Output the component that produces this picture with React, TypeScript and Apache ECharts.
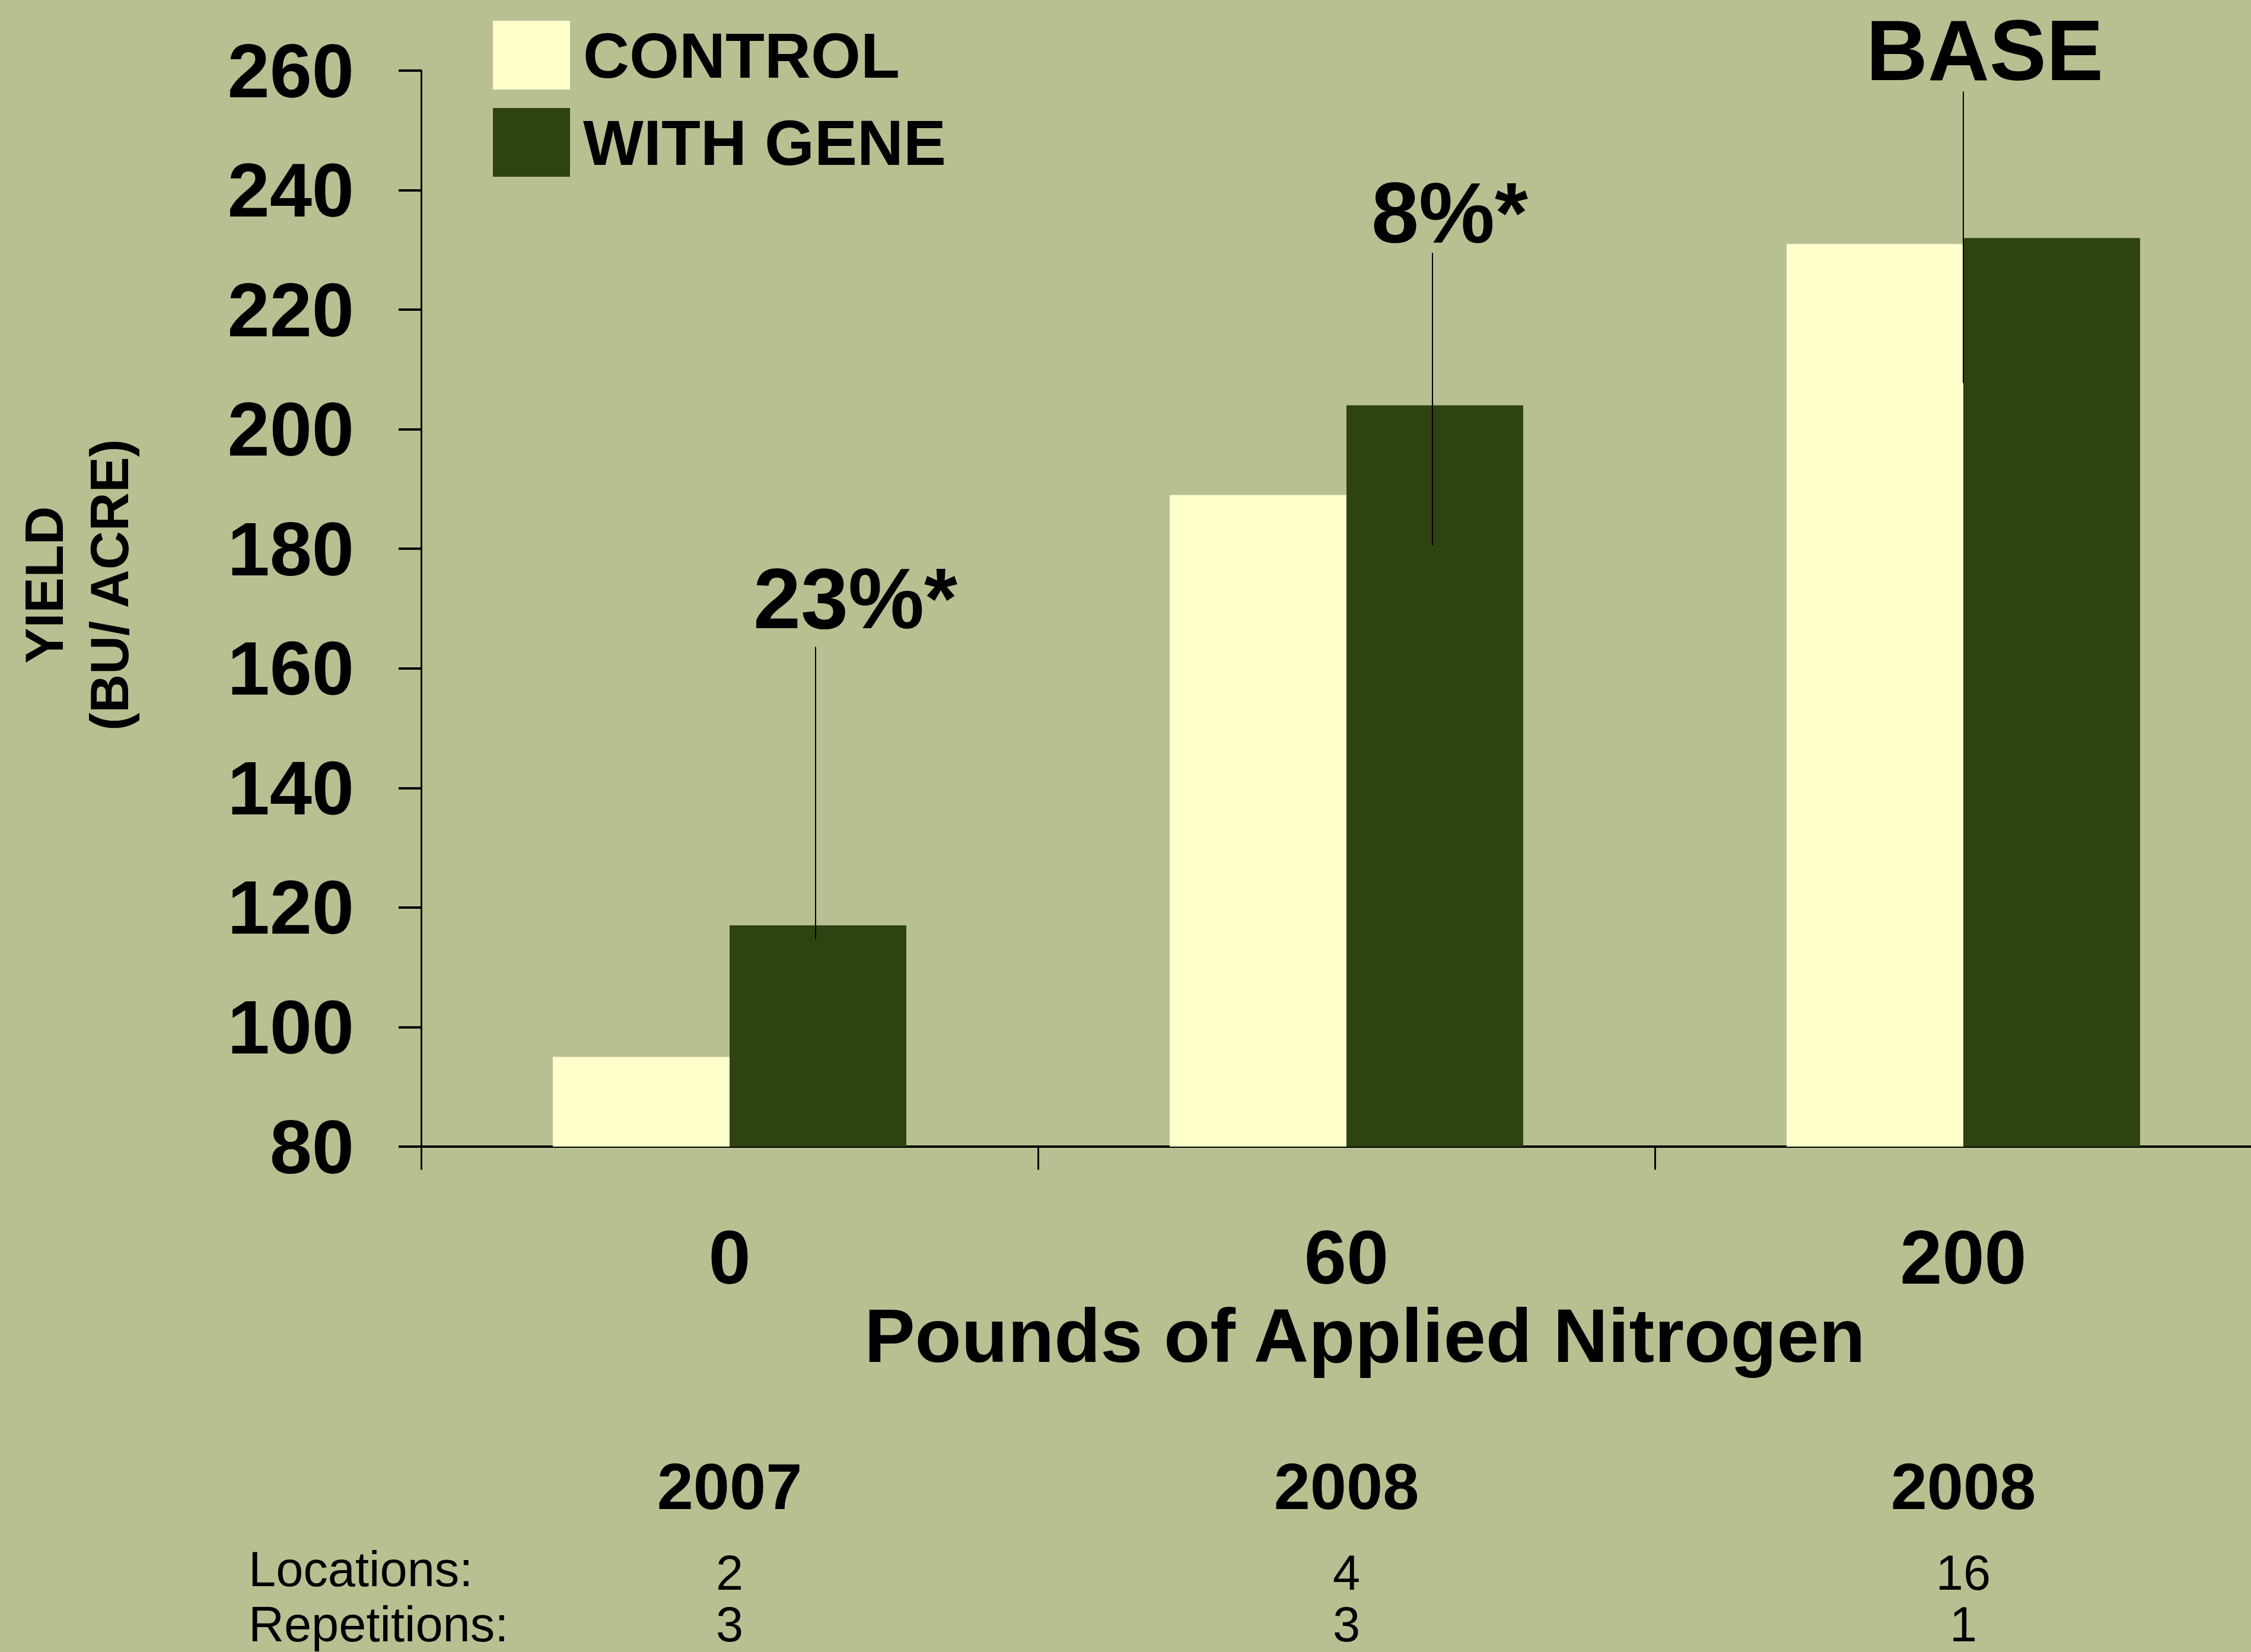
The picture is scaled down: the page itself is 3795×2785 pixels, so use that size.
import React, { useEffect, useRef } from "react";
import * as echarts from "echarts";

// ---- data ----
const categories = ["0", "60", "200"];
const controlValues = [95, 189, 231];
const geneValues = [117, 204, 232];
const seriesNames = ["CONTROL", "WITH GENE"];
const yearLabels = ["2007", "2008", "2008"];
const locationCounts = ["2", "4", "16"];
const repetitionCounts = ["3", "3", "1"];
const rowLabels = ["Locations:", "Repetitions:"];
const annotationTexts = ["23%*", "8%*", "BASE"];
const annotationLineTop = [163.6, 229.5, 256.5];
const annotationLineBottom = [114.7, 180.6, 207.7];
const annotationTextValue = [171.6, 236.1, 263.3];
const yMin = 80;
const yMax = 260;
const yInterval = 20;

// ---- styles ----
const FONT = "'Liberation Sans', Arial, Helvetica, sans-serif";
const BG = "#B8C092";
const CONTROL_COLOR = "#FFFFCC";
const GENE_COLOR = "#2F4311";
const lineOffsets = [145, 145, 0];
const textOffsets = [67, 29, 36];
const rowLabelCenters = [2645, 2738];

export default function App() {
  const ref = useRef<HTMLDivElement>(null);

  useEffect(() => {
    document.body.style.margin = "0";
    const chart = echarts.init(ref.current!, undefined, { renderer: "svg" });

    const extraAxis = (data: string[], offset: number, fontSize: number, bold: boolean, lineHeight: number) => ({
      type: "category",
      data,
      gridIndex: 0,
      position: "bottom",
      offset,
      axisLine: { show: false },
      axisTick: { show: false },
      splitLine: { show: false },
      axisLabel: {
        interval: 0,
        margin: 0,
        verticalAlign: "middle",
        fontSize,
        lineHeight,
        fontWeight: bold ? "bold" : "normal",
        fontFamily: FONT,
        color: "#000",
      },
    });

    const option: any = {
      animation: false,
      backgroundColor: BG,
      textStyle: { fontFamily: FONT },
      grid: {
        left: 710,
        top: 119,
        width: 3120,
        height: 1814,
        containLabel: false,
        outerBoundsMode: "none",
      },
      legend: {
        data: seriesNames,
        orient: "vertical",
        left: 831,
        top: 35,
        padding: 0,
        itemWidth: 130,
        itemHeight: 116,
        itemGap: 31,
        icon: "rect",
        selectedMode: false,
        textStyle: {
          fontSize: 108,
          fontWeight: "bold",
          color: "#000",
          fontFamily: FONT,
          lineHeight: 96,
          padding: [20, 0, 0, 17],
        },
      },
      xAxis: [
        {
          type: "category",
          data: categories,
          position: "bottom",
          name: "Pounds of Applied Nitrogen",
          nameLocation: "middle",
          nameGap: 313,
          nameTextStyle: {
            fontSize: 128,
            fontWeight: "bold",
            color: "#000",
            fontFamily: FONT,
            verticalAlign: "middle",
            padding: [0, 0, 0, 62],
          },
          axisLine: { show: true, onZero: false, lineStyle: { color: "#000", width: 4 } },
          axisTick: { show: true, length: 39, lineStyle: { color: "#000", width: 3 } },
          splitLine: { show: false },
          axisLabel: {
            interval: 0,
            margin: 186,
            verticalAlign: "middle",
            fontSize: 128,
            fontWeight: "bold",
            color: "#000",
            fontFamily: FONT,
          },
        },
        extraAxis(yearLabels, 572, 110, true, 120),
        extraAxis(locationCounts, 718, 83, false, 60),
        extraAxis(repetitionCounts, 805, 83, false, 60),
      ],
      yAxis: {
        type: "value",
        min: yMin,
        max: yMax,
        interval: yInterval,
        name: "YIELD\n(BU/ ACRE)",
        nameLocation: "middle",
        nameRotate: 90,
        nameGap: 470,
        nameTextStyle: {
          fontSize: 90,
          fontWeight: "bold",
          color: "#000",
          fontFamily: FONT,
          lineHeight: 110,
          padding: [0, 0, 0, 80],
        },
        axisLine: { show: true, lineStyle: { color: "#000", width: 3 } },
        axisTick: { show: true, length: 38, lineStyle: { color: "#000", width: 4 } },
        splitLine: { show: false },
        axisLabel: {
          margin: 113,
          fontSize: 128,
          fontWeight: "bold",
          color: "#000",
          fontFamily: FONT,
        },
      },
      series: [
        {
          name: seriesNames[0],
          type: "bar",
          data: controlValues,
          barWidth: 298,
          barGap: "0%",
          itemStyle: { color: CONTROL_COLOR },
        },
        {
          name: seriesNames[1],
          type: "bar",
          data: geneValues,
          barWidth: 298,
          barGap: "0%",
          itemStyle: { color: GENE_COLOR },
        },
        {
          type: "custom",
          z: 10,
          data: annotationTexts.map((_, i) => [i, annotationLineTop[i], annotationLineBottom[i], annotationTextValue[i]]),
          encode: { x: 0, y: 1 },
          renderItem: (params: any, api: any) => {
            const i = params.dataIndex;
            const cat = api.value(0);
            const top = api.coord([cat, api.value(1)]);
            const bottom = api.coord([cat, api.value(2)]);
            const textPt = api.coord([cat, api.value(3)]);
            const x = top[0] + lineOffsets[i];
            return {
              type: "group",
              children: [
                {
                  type: "line",
                  shape: { x1: x, y1: top[1], x2: x, y2: bottom[1] },
                  style: { stroke: "#000", lineWidth: 2 },
                },
                {
                  type: "text",
                  x: x + textOffsets[i],
                  y: textPt[1],
                  style: {
                    text: annotationTexts[i],
                    fontSize: 144,
                    fontWeight: "bold",
                    fontFamily: FONT,
                    fill: "#000",
                    align: "center",
                    verticalAlign: "middle",
                  },
                },
              ],
            };
          },
        },
      ],
      graphic: rowLabels.map((t, i) => ({
        type: "text",
        x: 419,
        y: rowLabelCenters[i],
        style: {
          text: t,
          fontSize: 83,
          lineHeight: 60,
          fontFamily: FONT,
          fill: "#000",
          align: "left",
          verticalAlign: "middle",
        },
      })),
    };

    chart.setOption(option);
    return () => chart.dispose();
  }, []);

  return (
    <div
      ref={ref}
      style={{ position: "absolute", left: 0, top: 0, width: 3795, height: 2785 }}
    />
  );
}
